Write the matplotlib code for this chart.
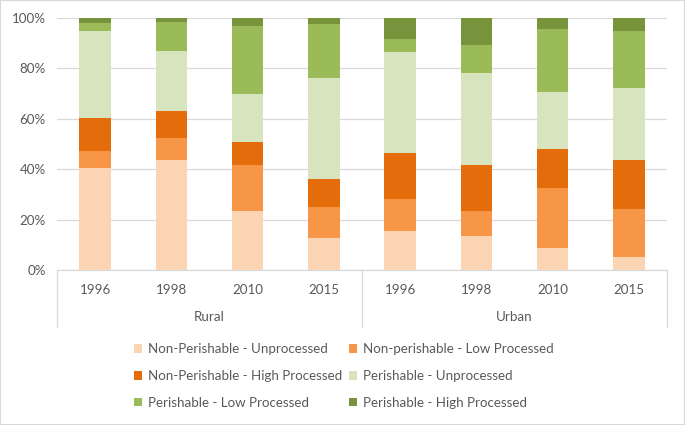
import matplotlib
matplotlib.use("Agg")
import matplotlib.pyplot as plt
from matplotlib.patches import Rectangle
import numpy as np

plt.rcParams['font.family'] = ['Lato', 'DejaVu Sans']

years = ["1996", "1998", "2010", "2015", "1996", "1998", "2010", "2015"]
groups = ["Rural", "Urban"]
series_names = ["Non-Perishable - Unprocessed", "Non-perishable - Low Processed",
                "Non-Perishable - High Processed", "Perishable - Unprocessed",
                "Perishable - Low Processed", "Perishable - High Processed"]
np_unprocessed = [40.5, 43.8, 23.4, 12.8, 15.5, 13.5, 8.6, 5.0]
np_low = [6.7, 8.6, 18.3, 12.3, 12.7, 10.0, 23.9, 19.3]
np_high = [13.1, 10.8, 9.1, 11.0, 18.2, 18.2, 15.5, 19.5]
p_unprocessed = [34.4, 23.7, 19.2, 40.1, 40.0, 36.3, 22.6, 28.6]
p_low = [3.4, 11.5, 26.8, 21.4, 5.3, 11.2, 25.0, 22.6]
p_high = [1.9, 1.6, 3.2, 2.4, 8.3, 10.8, 4.4, 5.0]
colors = ["#FBD4B4", "#F79646", "#E46C0A", "#D7E4BD", "#9BBB59", "#77933C"]

data = [np_unprocessed, np_low, np_high, p_unprocessed, p_low, p_high]

fig = plt.figure(figsize=(6.85, 4.25), dpi=100)
ax = fig.add_axes([57/685, 1-270/425, 610/685, 252/425])

x = np.arange(len(years))
bottom = np.zeros(len(years))
handles = []
for vals, c, name in zip(data, colors, series_names):
    v = np.array(vals, dtype=float)
    b = ax.bar(x, v, 0.41, bottom=bottom, color=c, label=name, zorder=3)
    handles.append(b)
    bottom += v

text_col = "#595959"
grid_col = "#D9D9D9"
fs = 9.6
ax.set_xlim(-0.5, 7.5)
ax.set_ylim(0, 100)
ax.set_yticks([0, 20, 40, 60, 80, 100])
ax.set_yticklabels([f"{t}%" for t in [0, 20, 40, 60, 80, 100]], color=text_col, fontsize=fs)
ax.yaxis.grid(True, color=grid_col, lw=0.9, zorder=0)
ax.set_xticks(x)
ax.set_xticklabels(years, color=text_col, fontsize=fs)
ax.tick_params(axis='both', length=0)
ax.tick_params(axis='x', pad=10)
ax.tick_params(axis='y', pad=8)
for s in ['top', 'right', 'left']:
    ax.spines[s].set_visible(False)
ax.spines['bottom'].set_color(grid_col)
ax.spines['bottom'].set_linewidth(0.9)

tr = ax.get_xaxis_transform()
depth = -(327-270)/252
for xv in [-0.5, 3.5, 7.5]:
    ax.plot([xv, xv], [0, depth], transform=tr, color=grid_col, lw=0.9, clip_on=False)
for i, g in enumerate(groups):
    ax.text(1.5 + 4*i, -(317-270)/252, g, transform=tr, ha='center', va='center',
            color=text_col, fontsize=fs)

order = [0, 2, 4, 1, 3, 5]
leg = fig.legend([handles[i] for i in order], [series_names[i] for i in order],
                 ncol=2, loc='center', bbox_to_anchor=(344/685, 1-376/425),
                 frameon=False, fontsize=fs, handlelength=0.6, handleheight=0.6,
                 handletextpad=0.45, columnspacing=0.5, labelspacing=1.12)
for t in leg.get_texts():
    t.set_color(text_col)

fig.patches.append(Rectangle((0, 0), 1, 1, transform=fig.transFigure, fill=False,
                             edgecolor="#D9D9D9", lw=1.5))

fig.savefig("out.png", dpi=100)
